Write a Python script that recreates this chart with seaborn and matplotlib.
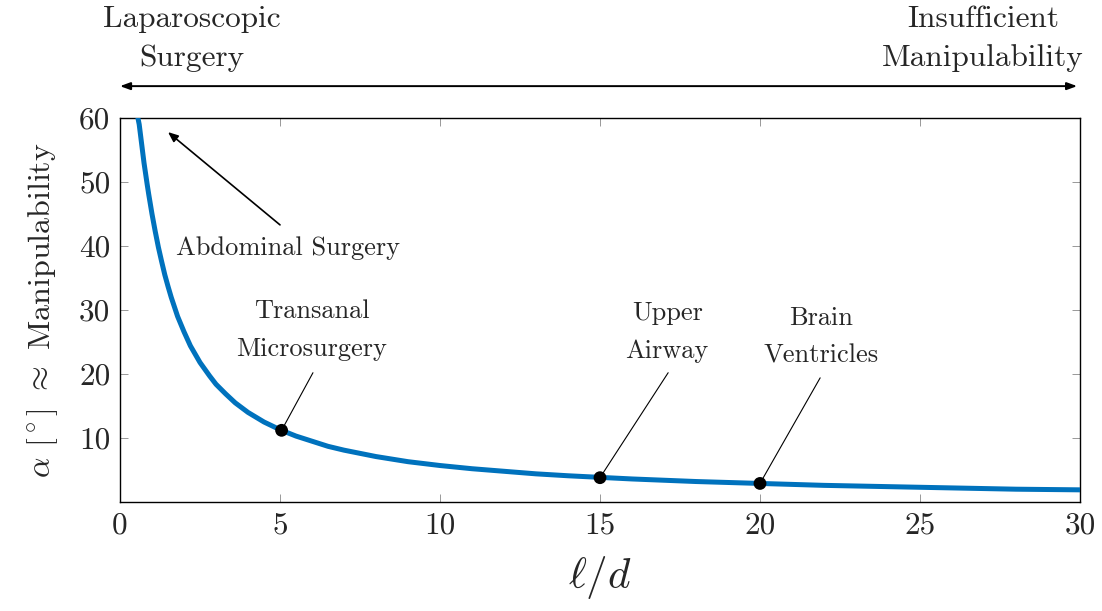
import matplotlib
matplotlib.use("Agg")
import matplotlib.pyplot as plt
import seaborn as sns
import pandas as pd

# Data
ratio = [0.56, 0.6, 0.65, 0.7, 0.75, 0.8, 0.85, 0.9, 0.95, 1.0, 1.1, 1.2, 1.3, 1.4, 1.5,
         1.6, 1.8, 2.0, 2.2, 2.5, 2.8, 3.0, 3.3, 3.6, 4.0, 4.5, 5.0, 5.5, 6, 6.5, 7,
         7.5, 8, 9, 10, 11, 12, 13, 14, 16, 18, 20, 22, 25, 28, 30]
alpha = [60, 59, 57, 55, 53, 51.3, 49.6, 48, 46.5, 45, 42.3, 39.8, 37.6, 35.5, 33.7,
         32, 29, 26.6, 24.4, 21.8, 19.7, 18.4, 16.9, 15.5, 14.0, 12.5, 11.3, 10.3, 9.5,
         8.7, 8.1, 7.6, 7.1, 6.3, 5.7, 5.2, 4.8, 4.4, 4.1, 3.6, 3.2, 2.9, 2.6, 2.3,
         2.0, 1.9]

app_names = ["Transanal\nMicrosurgery", "Upper\nAirway", "Brain\nVentricles"]
app_x = [5.05, 15, 20]
app_y = [11.2, 3.8, 2.9]
label_x = [6.0, 17.1, 21.9]
label_y = [26.8, 26.6, 25.8]
leader_end_x = [6.03, 17.13, 21.88]
leader_end_y = [20.2, 20.2, 19.4]

x_ticks = [0, 5, 10, 15, 20, 25, 30]
y_ticks = [10, 20, 30, 40, 50, 60]

sns.set_style("ticks")
plt.rcParams["font.family"] = "cmr10"
plt.rcParams["mathtext.fontset"] = "cm"
plt.rcParams["axes.unicode_minus"] = False
plt.rcParams["axes.formatter.use_mathtext"] = True

fig = plt.figure(figsize=(11.02, 6.11), dpi=100)
ax = fig.add_axes([120 / 1102, 109 / 611, 960 / 1102, 384 / 611])

curve = pd.DataFrame({"ratio": ratio, "alpha": alpha})
sns.lineplot(data=curve, x="ratio", y="alpha", ax=ax, color="#0072BD", linewidth=3.6,
             sort=False, zorder=3)

pts = pd.DataFrame({"x": app_x, "y": app_y})
sns.scatterplot(data=pts, x="x", y="y", ax=ax, color="black", s=85, zorder=5,
                edgecolor="none")

for name, lx, ly, ex, ey, px, py in zip(app_names, label_x, label_y, leader_end_x,
                                        leader_end_y, app_x, app_y):
    ax.annotate("", xy=(px, py), xytext=(ex, ey),
                arrowprops=dict(arrowstyle="-", color="black", lw=0.8,
                                shrinkA=0, shrinkB=0), zorder=4)
    ax.text(lx, ly, name, ha="center", va="center", fontsize=19, linespacing=1.75)

# Abdominal surgery arrow
ax.annotate("", xy=(1.5, 57.8), xytext=(5.0, 43.3),
            arrowprops=dict(arrowstyle="-|>,head_length=0.6,head_width=0.25",
                            color="black", lw=1.2, shrinkA=0, shrinkB=0))
ax.text(5.25, 39.7, "Abdominal Surgery", ha="center", va="center", fontsize=19)

ax.set_xlim(0, 30)
ax.set_ylim(0, 60)
ax.set_xticks(x_ticks)
ax.set_yticks(y_ticks)
ax.set_xticklabels([str(t) for t in x_ticks])
ax.set_yticklabels([str(t) for t in y_ticks])
ax.tick_params(axis="both", which="both", direction="in", length=6, width=0.6,
               color="#888888", labelsize=22.5, top=True, right=True, pad=7)
for s in ax.spines.values():
    s.set_color("black")
    s.set_linewidth(1.0)

ax.set_xlabel(r"$\ell/d$", fontsize=31, labelpad=10)
ax.set_ylabel(r"$\alpha$ [$^\circ$] $\approx$ Manipulability", fontsize=23, labelpad=14)

# Top double arrow and labels
ax.annotate("", xy=(0.0, 1.083), xytext=(0.997, 1.083), xycoords="axes fraction",
            textcoords="axes fraction",
            arrowprops=dict(arrowstyle="<|-|>,head_length=0.6,head_width=0.22",
                            color="black", lw=1.4, shrinkA=0, shrinkB=0),
            annotation_clip=False)
ax.text(0.075, 1.207, "Laparoscopic\nSurgery", transform=ax.transAxes, ha="center",
        va="center", fontsize=22.5, linespacing=1.5)
ax.text(0.899, 1.207, "Insufficient\nManipulability", transform=ax.transAxes,
        ha="center", va="center", fontsize=22.5, linespacing=1.5)

fig.savefig("out.png", dpi=100)
